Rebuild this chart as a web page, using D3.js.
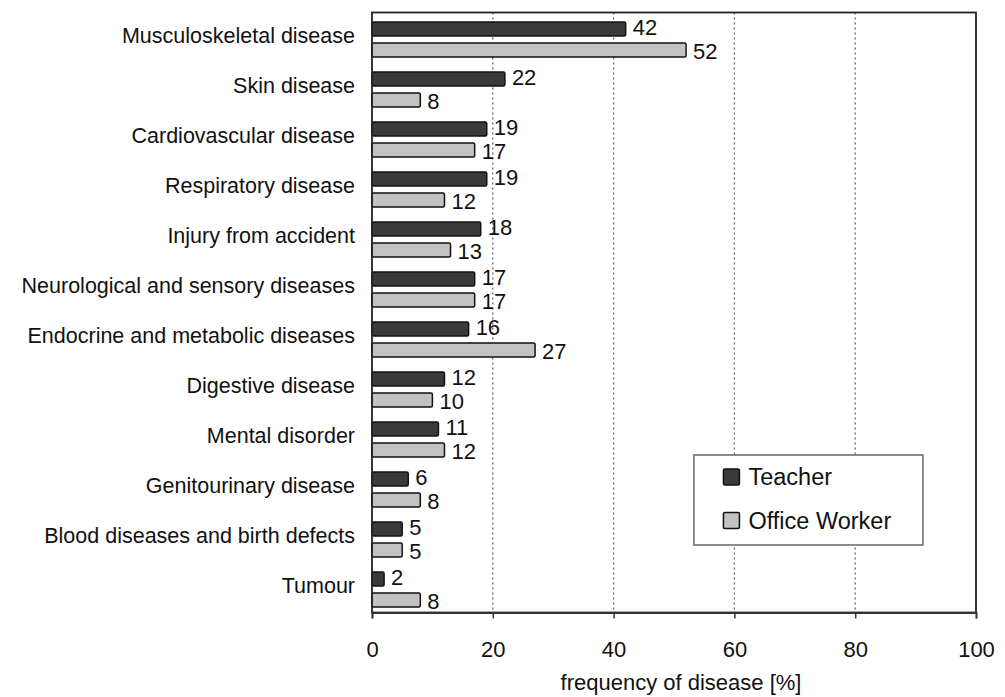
<!DOCTYPE html>
<html>
<head>
  <meta charset="UTF-8">
  <title>Frequency of disease</title>
  <style>
    body { margin: 0; background: #fff; }
    svg text { font-family: "Liberation Sans", Arial, sans-serif; fill: #111; }
    .grid line { stroke: #666; stroke-width: 1.3px; stroke-dasharray: 2,3; }
  </style>
</head>
<body>
  <div id="chart"></div>

  <script src="https://d3js.org/d3.v7.min.js"></script>
  <script>
    // values
    const categories = [
      "Musculoskeletal disease", "Skin disease", "Cardiovascular disease",
      "Respiratory disease", "Injury from accident", "Neurological and sensory diseases",
      "Endocrine and metabolic diseases", "Digestive disease", "Mental disorder",
      "Genitourinary disease", "Blood diseases and birth defects", "Tumour"
    ];
    const series = ["Teacher", "Office Worker"];
    const teacher = [42, 22, 19, 19, 18, 17, 16, 12, 11, 6, 5, 2];
    const officeWorker = [52, 8, 17, 12, 13, 17, 27, 10, 12, 8, 5, 8];
    const xTicks = [0, 20, 40, 60, 80, 100];

    const colors = { "Teacher": "#3a3a3a", "Office Worker": "#c2c2c2" };

    const width = 1005, height = 697;
    const margin = { top: 12.5, right: 29, bottom: 84.5, left: 372 };
    const innerW = width - margin.left - margin.right;
    const innerH = height - margin.top - margin.bottom;

    const rows = categories.map((c, i) => ({
      category: c,
      values: [
        { key: "Teacher", value: teacher[i] },
        { key: "Office Worker", value: officeWorker[i] }
      ]
    }));

    const svg = d3.select("#chart").append("svg")
      .attr("width", width)
      .attr("height", height);

    const g = svg.append("g")
      .attr("transform", `translate(${margin.left},${margin.top})`);

    const x = d3.scaleLinear().domain([0, 100]).range([0, innerW]);
    const y0 = d3.scaleBand().domain(categories).range([0, innerH]).padding(0);
    const y1 = d3.scaleBand().domain(series)
      .range([y0.bandwidth() * 0.19, y0.bandwidth() * 0.89])
      .paddingInner(0.33);

    // dotted gridlines
    g.append("g").attr("class", "grid")
      .selectAll("line")
      .data(xTicks.filter(t => t > 0 && t < 100))
      .join("line")
      .attr("x1", d => x(d)).attr("x2", d => x(d))
      .attr("y1", 0).attr("y2", innerH);

    // bars
    const grp = g.selectAll(".cat")
      .data(rows)
      .join("g")
      .attr("class", "cat")
      .attr("transform", d => `translate(0,${y0(d.category)})`);

    grp.selectAll("rect")
      .data(d => d.values)
      .join("rect")
      .attr("x", x(0))
      .attr("y", d => y1(d.key))
      .attr("width", d => x(d.value) - x(0))
      .attr("height", y1.bandwidth())
      .attr("rx", 1.5)
      .attr("fill", d => colors[d.key])
      .attr("stroke", "#111")
      .attr("stroke-width", 1.5);

    grp.selectAll("text.val")
      .data(d => d.values)
      .join("text")
      .attr("class", "val")
      .attr("x", d => x(d.value) + 7)
      .attr("y", d => y1(d.key) + y1.bandwidth() / 2 + (d.key === "Teacher" ? -2 : 1))
      .attr("dy", "0.35em")
      .style("font-size", "22px")
      .text(d => d.value);

    // frame
    g.append("rect")
      .attr("x", 0).attr("y", 0)
      .attr("width", innerW).attr("height", innerH)
      .attr("fill", "none")
      .attr("stroke", "#222")
      .attr("stroke-width", 1.8);

    // x axis
    const xAxis = g.append("g")
      .attr("transform", `translate(0,${innerH})`)
      .call(d3.axisBottom(x).tickValues(xTicks).tickSize(6).tickPadding(23));
    xAxis.select(".domain").attr("stroke", "#333").attr("stroke-width", 1.8);
    xAxis.selectAll(".tick line").attr("stroke", "#333").attr("stroke-width", 1.5);
    xAxis.selectAll(".tick text")
      .style("font-size", "22px")
      .style("font-family", "'Liberation Sans', Arial, sans-serif")
      .attr("fill", "#111");

    // category labels
    const yAxis = g.append("g")
      .call(d3.axisLeft(y0).tickSize(0).tickPadding(17));
    yAxis.select(".domain").remove();
    yAxis.selectAll(".tick text")
      .style("font-size", "21.5px")
      .style("font-family", "'Liberation Sans', Arial, sans-serif")
      .attr("fill", "#111")
      .attr("dy", "0.26em");

    // axis title
    g.append("text")
      .attr("x", innerW / 2 + 7)
      .attr("y", innerH + 77)
      .attr("text-anchor", "middle")
      .style("font-size", "22px")
      .text("frequency of disease [%]");

    // legend
    const legend = g.append("g")
      .attr("transform", `translate(${x(53.3)},${442.5})`);
    legend.append("rect")
      .attr("width", 229).attr("height", 90)
      .attr("fill", "#fff")
      .attr("stroke", "#666")
      .attr("stroke-width", 1.5);
    const items = legend.selectAll(".item")
      .data(series)
      .join("g")
      .attr("class", "item")
      .attr("transform", (d, i) => `translate(29.5,${14 + i * 43.5})`);
    items.append("rect")
      .attr("width", 16).attr("height", 16).attr("rx", 1.5)
      .attr("fill", d => colors[d])
      .attr("stroke", "#111")
      .attr("stroke-width", 1.5);
    items.append("text")
      .attr("x", 25).attr("y", 8)
      .attr("dy", "0.35em")
      .style("font-size", "23.5px")
      .text(d => d);
  </script>
</body>
</html>
